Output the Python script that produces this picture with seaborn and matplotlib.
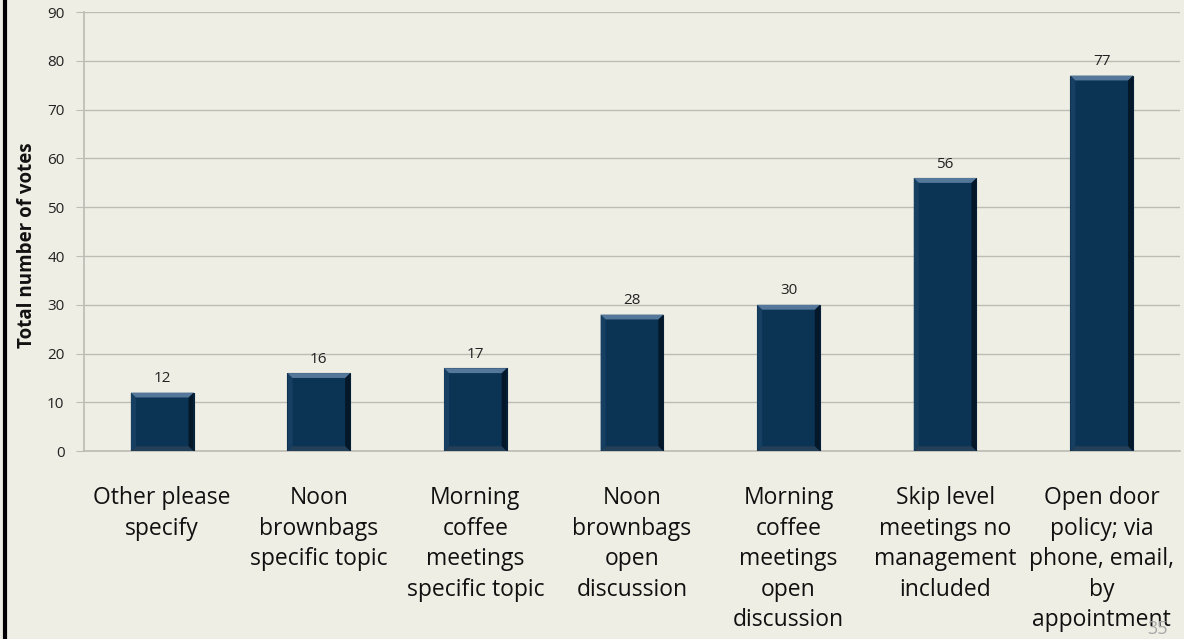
import matplotlib
matplotlib.use("Agg")
import matplotlib.pyplot as plt
import seaborn as sns
import pandas as pd
from matplotlib.patches import Polygon
from matplotlib.lines import Line2D

categories = [
    "Other please\nspecify",
    "Noon\nbrownbags\nspecific topic",
    "Morning\ncoffee\nmeetings\nspecific topic",
    "Noon\nbrownbags\nopen\ndiscussion",
    "Morning\ncoffee\nmeetings\nopen\ndiscussion",
    "Skip level\nmeetings no\nmanagement\nincluded",
    "Open door\npolicy; via\nphone, email,\nby\nappointment",
]
votes = [12, 16, 17, 28, 30, 56, 77]
y_ticks = [0, 10, 20, 30, 40, 50, 60, 70, 80, 90]
y_label = "Total number of votes"
slide_number = "35"

BG = "#EEEEE4"
BAR = "#0B3354"

sns.set_theme(style="white")
plt.rcParams["font.family"] = ["Open Sans", "DejaVu Sans"]

df = pd.DataFrame({"cat": categories, "votes": votes})

fig = plt.figure(figsize=(11.84, 6.39), dpi=100, facecolor=BG)
ax = fig.add_axes([0.0709, 0.294, 0.9257, 0.687])
ax.set_facecolor(BG)

sns.barplot(data=df, x="cat", y="votes", color=BAR, width=0.40,
            saturation=1, edgecolor="#06203A", linewidth=0.8, ax=ax, zorder=3)

# bevel highlights derived from bar geometry
for p in ax.patches:
    x0 = p.get_x(); w = p.get_width(); h = p.get_height()
    bw = w * 0.08
    bh = 1.0
    top = Polygon([[x0, h], [x0 + w, h], [x0 + w - bw, h - bh], [x0 + bw, h - bh]],
                  closed=True, facecolor="#55789A", edgecolor="none", zorder=4)
    right = Polygon([[x0 + w, h], [x0 + w, 0], [x0 + w - bw, bh], [x0 + w - bw, h - bh]],
                    closed=True, facecolor="#04182A", edgecolor="none", zorder=4)
    left = Polygon([[x0, h], [x0, 0], [x0 + bw, bh], [x0 + bw, h - bh]],
                   closed=True, facecolor="#163F62", edgecolor="none", zorder=4)
    bottom = Polygon([[x0, 0], [x0 + w, 0], [x0 + w - bw, bh], [x0 + bw, bh]],
                     closed=True, facecolor="#243F58", edgecolor="none", zorder=4)
    for poly in (left, right, bottom, top):
        ax.add_patch(poly)
    ax.text(x0 + w / 2, h + 1.3, f"{int(h)}", ha="center", va="bottom",
            fontsize=11, color="#222222", zorder=5)

ax.set_ylim(0, 90)
ax.set_xlim(-0.5, len(categories) - 0.5)
ax.set_yticks(y_ticks)
ax.set_yticklabels([str(t) for t in y_ticks], fontsize=11, color="#222222")
ax.yaxis.grid(True, color="#BDBDB5", linewidth=1.0, zorder=0)
ax.set_axisbelow(True)

ax.set_xticks(range(len(categories)))
ax.set_xticklabels(categories, fontsize=16.5, color="#111111", linespacing=1.37)
ax.set_xticks([i + 0.5 for i in range(-1, len(categories))], minor=True)
ax.tick_params(axis="x", which="major", length=0, pad=25)
ax.tick_params(axis="x", which="minor", length=7, width=0.8, color="#BDBDB5", direction="out")
ax.tick_params(axis="y", which="major", length=6, width=0.8, color="#BDBDB5", direction="out", left=True, pad=8)

ax.set_xlabel("")
ax.set_ylabel(y_label, fontsize=13.5, fontweight="bold", color="#111111")
ax.yaxis.set_label_coords(-0.043, 0.47)

for side in ("top", "right"):
    ax.spines[side].set_visible(False)
ax.spines["left"].set_color("#BDBDB5")
ax.spines["bottom"].set_color("#BDBDB5")

# slide left border and slide number
fig.add_artist(Line2D([0.004, 0.004], [0, 1], transform=fig.transFigure, color="black", linewidth=3))
fig.text(0.978, 0.002, slide_number, fontsize=13, color="#A8A8A8", ha="center", va="bottom", zorder=0)

fig.savefig("out.png", dpi=100, facecolor=BG)
